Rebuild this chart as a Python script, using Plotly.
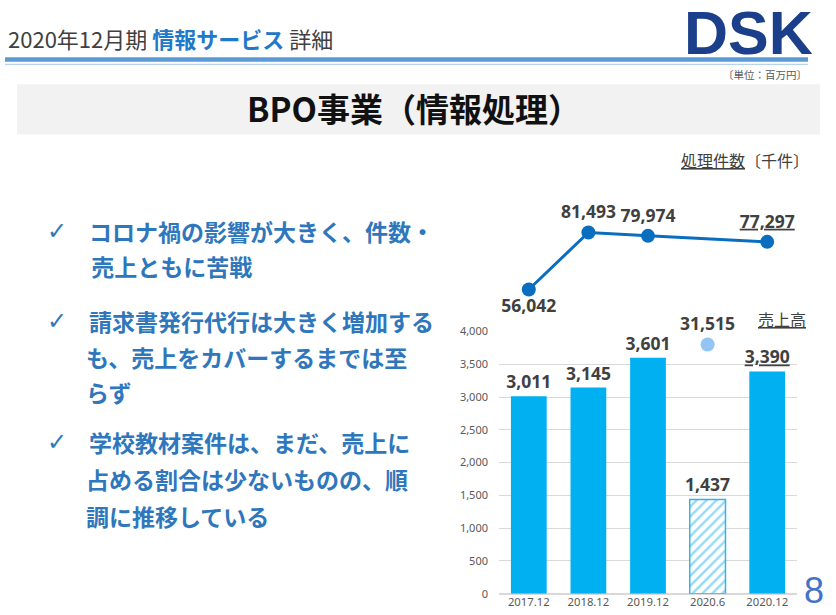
import plotly.graph_objects as go

# ---------------- data ----------------
periods = ["2017.12", "2018.12", "2019.12", "2020.6", "2020.12"]
sales = [3011, 3145, 3601, 1437, 3390]          # 売上高（百万円）
volume = [56042, 81493, 79974, 31515, 77297]    # 処理件数（千件）
half_year_index = 3                              # 2020.6 is a half-year figure
underlined_index = 4                             # latest period underlined
y_ticks = [0, 500, 1000, 1500, 2000, 2500, 3000, 3500, 4000]

bullets = [
    ["コロナ禍の影響が大きく、件数・", " 売上ともに苦戦"],
    ["請求書発行代行は大きく増加する", "も、売上をカバーするまでは至", "らず"],
    ["学校教材案件は、まだ、売上に", "占める割合は少ないものの、順", "調に推移している"],
]

W, H = 836, 615
JP = "Noto Sans CJK JP"
NUM = "Noto Sans"
LABEL_SIZE = 17.5
# the captured picture maps figure y to 7.7 + 0.975*y; place items by target position
Y_OFF, Y_SCALE = 7.7, 0.975


def px(x):
    return x / W


def py(y):
    return 1 - ((y - Y_OFF) / Y_SCALE) / H


def fmt(v, i):
    s = f"{v:,}"
    return f"<u>{s}</u>" if i == underlined_index else s


fig = go.Figure()

label_font = dict(family=NUM, size=LABEL_SIZE, color="#404040", weight="bold")

# full-year bars
full_y = [v if i != half_year_index else None for i, v in enumerate(sales)]
full_t = [fmt(v, i) if i != half_year_index else "" for i, v in enumerate(sales)]
fig.add_trace(go.Bar(
    x=periods, y=full_y, text=full_t, textposition="outside", textfont=label_font,
    constraintext="none",
    marker=dict(color="#00B0F0", line=dict(width=0)),
    width=0.6, cliponaxis=False, showlegend=False,
))
# half-year hatched bar
half_y = [v if i == half_year_index else None for i, v in enumerate(sales)]
half_t = [fmt(v, i) if i == half_year_index else "" for i, v in enumerate(sales)]
fig.add_trace(go.Bar(
    x=periods, y=half_y, text=half_t, textposition="outside", textfont=label_font,
    constraintext="none",
    marker=dict(color="white", line=dict(color="#2EB5EE", width=1.5),
                pattern=dict(shape="/", fgcolor="#2EB5EE", bgcolor="white",
                             size=7, solidity=0.35)),
    width=0.6, cliponaxis=False, showlegend=False,
))

# volume line (full years only)
line_y = [v if i != half_year_index else None for i, v in enumerate(volume)]
line_t = [fmt(v, i) if i != half_year_index else "" for i, v in enumerate(volume)]
line_pos = ["bottom center" if i == 0 else "top center" for i in range(len(volume))]
fig.add_trace(go.Scatter(
    x=periods, y=line_y, yaxis="y2", mode="lines+markers+text",
    connectgaps=True, text=line_t, textposition=line_pos, textfont=label_font,
    line=dict(color="#0A6EC0", width=3),
    marker=dict(color="#0A6EC0", size=14),
    cliponaxis=False, showlegend=False,
))
# half-year volume point
fig.add_trace(go.Scatter(
    x=[periods[half_year_index]], y=[volume[half_year_index]], yaxis="y2",
    mode="markers+text", text=[fmt(volume[half_year_index], half_year_index)],
    textposition="top center", textfont=label_font,
    marker=dict(color="#92C5F3", size=14),
    cliponaxis=False, showlegend=False,
))

# axis geometry (target pixels)
bar_bottom, bar_top = 593, 331
line_top = 185
# volume axis scale: px per unit chosen so the series sits above the bars
k = 446.5
ref_px = 289
v_bottom = volume[0] - (bar_bottom - ref_px) * k
v_top = volume[0] + (ref_px - line_top) * k

fig.update_layout(
    width=W, height=H, autosize=False,
    margin=dict(l=0, r=0, t=0, b=0),
    paper_bgcolor="white", plot_bgcolor="rgba(0,0,0,0)",
    barmode="overlay",
    xaxis=dict(type="category", domain=[px(499), px(797)], range=[-0.5, 4.5],
               anchor="y", showgrid=False, showline=False, ticks="",
               tickfont=dict(family=NUM, size=11.3, color="#595959")),
    yaxis=dict(domain=[py(bar_bottom), py(bar_top)], range=[0, 4000],
               tickvals=y_ticks, tickformat=",d", showgrid=True,
               gridcolor="#D9D9D9", gridwidth=1, zeroline=True,
               zerolinecolor="#D9D9D9", showline=False, ticks="",
               ticklabelstandoff=10,
               tickfont=dict(family=NUM, size=11, color="#595959")),
    yaxis2=dict(domain=[py(bar_bottom), py(line_top)], range=[v_bottom, v_top],
                anchor="x", showgrid=False, zeroline=False, showticklabels=False,
                ticks="", showline=False),
)

shapes = []
annotations = []

# header lines
shapes.append(dict(type="rect", xref="paper", yref="paper",
                   x0=px(5), x1=px(808), y0=py(61.5), y1=py(57),
                   fillcolor="#5B9BD5", line=dict(width=0), layer="below"))
shapes.append(dict(type="line", xref="paper", yref="paper",
                   x0=px(5), x1=px(808), y0=py(64), y1=py(64),
                   line=dict(color="#A9CBEA", width=1), layer="below"))
# gray banner
shapes.append(dict(type="rect", xref="paper", yref="paper",
                   x0=px(17), x1=px(820), y0=py(134), y1=py(84),
                   fillcolor="#F2F2F2", line=dict(width=0), layer="below"))

# header title
annotations.append(dict(
    x=px(6), y=py(38), xref="paper", yref="paper", xanchor="left", yanchor="middle",
    showarrow=False,
    text="2020年12月期 <b><span style='color:#1F78C8'>情報サービス</span></b> 詳細",
    font=dict(family=JP, size=22, color="#404040")))
# logo
annotations.append(dict(
    x=px(748), y=py(33), xref="paper", yref="paper", xanchor="center", yanchor="middle",
    showarrow=False, text="<b>DSK</b>",
    font=dict(family="Liberation Sans", size=61, color="#1B3F8B")))
# unit
annotations.append(dict(
    x=px(809), y=py(74), xref="paper", yref="paper", xanchor="right", yanchor="middle",
    showarrow=False, text="〔単位：百万円〕",
    font=dict(family=JP, size=10.5, color="#595959")))
# banner title
annotations.append(dict(
    x=px(414), y=py(108), xref="paper", yref="paper", xanchor="center", yanchor="middle",
    showarrow=False, text="<b>BPO事業（情報処理）</b>",
    font=dict(family=JP, size=33, color="#111111")))
# chart captions
annotations.append(dict(
    x=px(811), y=py(160), xref="paper", yref="paper", xanchor="right", yanchor="middle",
    showarrow=False, text="<u>処理件数</u>〔千件〕",
    font=dict(family=JP, size=16, color="#404040")))
annotations.append(dict(
    x=px(782), y=py(319), xref="paper", yref="paper", xanchor="center", yanchor="middle",
    showarrow=False, text="<u>売上高</u>",
    font=dict(family=JP, size=16, color="#404040")))

# bullets
bullet_top = [231, 321, 441]
line_gap = [35, 35, 37]
first_x = 87
cont_x = 84
blue = "#2F77BC"
for bi, lines in enumerate(bullets):
    y0 = bullet_top[bi]
    annotations.append(dict(
        x=px(57), y=py(y0), xref="paper", yref="paper", xanchor="center", yanchor="middle",
        showarrow=False, text="<b>✓</b>", font=dict(family="DejaVu Sans", size=24, color=blue)))
    for li, t in enumerate(lines):
        annotations.append(dict(
            x=px(first_x if li == 0 else cont_x), y=py(y0 + li * line_gap[bi]),
            xref="paper", yref="paper", xanchor="left", yanchor="middle",
            showarrow=False, text=f"<b>{t}</b>",
            font=dict(family=JP, size=23, color=blue)))

# page number
annotations.append(dict(
    x=px(814), y=py(590), xref="paper", yref="paper", xanchor="center", yanchor="middle",
    showarrow=False, text="8",
    font=dict(family="Liberation Sans", size=36, color="#4472C4")))

fig.update_layout(shapes=shapes, annotations=annotations)

page_fix = (
    "document.documentElement.style.margin='0';"
    "document.documentElement.style.overflow='hidden';"
    "document.body.style.margin='0';"
    "document.body.style.overflow='hidden';"
    "var gd=document.getElementById('{plot_id}');"
    "gd.style.position='fixed';gd.style.left='0px';gd.style.top='0px';"
)
fig.write_html(
    "out.html",
    config={"displayModeBar": False, "responsive": False},
    post_script=page_fix,
)
